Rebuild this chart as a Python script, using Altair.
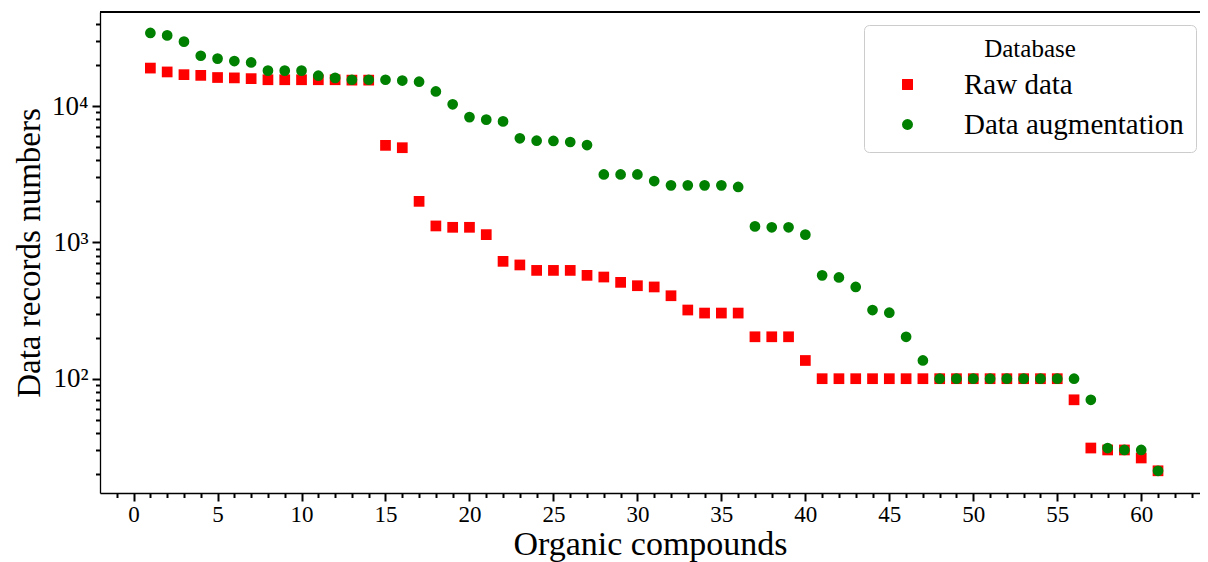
import altair as alt
import pandas as pd

compounds = list(range(1, 62))

raw_data = [19000, 17800, 17000, 16800, 16200, 16100, 15900, 15600, 15600, 15600,
            15600, 15600, 15500, 15500, 5150, 4950, 2000, 1320, 1290, 1290,
            1140, 726, 683, 623, 623, 623, 573, 557, 509, 481,
            471, 406, 319, 303, 303, 303, 203, 203, 203, 136,
            100, 100, 100, 100, 100, 100, 100, 100, 100, 100,
            100, 100, 100, 100, 100, 70, 31, 30, 30, 26.2,
            21.1]

augmented = [34400, 33000, 29700, 23400, 22300, 21400, 20900, 18200, 18200, 18200,
             16700, 16100, 15600, 15600, 15600, 15400, 15100, 12800, 10300, 8300,
             7950, 7720, 5800, 5570, 5550, 5450, 5180, 3150, 3150, 3150,
             2820, 2620, 2620, 2620, 2620, 2550, 1310, 1290, 1290, 1140,
             573, 553, 471, 319, 305, 203, 136, 100, 100, 100,
             100, 100, 100, 100, 100, 100, 70, 31, 30, 30,
             21.1]

series_names = ["Raw data", "Data augmentation"]
series_colors = ["#ff0000", "#008000"]
series_shapes = ["square", "circle"]

x_ticks = list(range(-1, 64))
y_ticks = [20, 30, 40, 50, 60, 70, 80, 90,
           100, 200, 300, 400, 500, 600, 700, 800, 900,
           1000, 2000, 3000, 4000, 5000, 6000, 7000, 8000, 9000,
           10000, 20000, 30000, 40000]

df = pd.DataFrame({
    "Organic compounds": compounds + compounds,
    "Data records numbers": raw_data + augmented,
    "Database": [series_names[0]] * len(compounds) + [series_names[1]] * len(compounds),
})

FONT = "Liberation Serif"
W, H = 1100, 481

points = alt.Chart(df).mark_point(filled=True, opacity=1, strokeWidth=0, size=115).encode(
    x=alt.X("Organic compounds:Q",
            scale=alt.Scale(domain=[-2, 63.5], nice=False, zero=False),
            axis=alt.Axis(values=x_ticks, grid=False, domainColor="black", domainWidth=1.3,
                          tickColor="black", tickWidth=2,
                          tickSize={"condition": {"test": "datum.value % 5 === 0", "value": 8}, "value": 4.5},
                          labelExpr="(datum.value % 5 === 0 && datum.value >= 0 && datum.value <= 60) ? datum.label : ''",
                          labelOverlap=False, labelFont=FONT, labelFontSize=23, labelColor="black",
                          labelPadding=2, title="Organic compounds", titleFont=FONT,
                          titleFontSize=34, titleFontWeight="normal", titleColor="black",
                          titlePadding=1)),
    y=alt.Y("Data records numbers:Q",
            scale=alt.Scale(type="log", domain=[14.5, 49000], nice=False),
            axis=alt.Axis(values=y_ticks, grid=False, domainColor="black", domainWidth=1.3,
                          tickColor="black", tickWidth=2,
                          tickSize={"condition": {"test": "datum.value == 100 || datum.value == 1000 || datum.value == 10000", "value": 8}, "value": 4.5},
                          labelExpr="datum.value == 100 ? '10²' : datum.value == 1000 ? '10³' : datum.value == 10000 ? '10⁴' : ''",
                          labelOverlap=False, labelFont=FONT, labelFontSize=27, labelColor="black",
                          labelPadding=4, title="Data records numbers", titleFont=FONT,
                          titleFontSize=33, titleFontWeight="normal", titleColor="black",
                          titlePadding=5)),
    color=alt.Color("Database:N",
                    scale=alt.Scale(domain=series_names, range=series_colors),
                    legend=alt.Legend(orient="none", legendX=764, legendY=13,
                                      title="Database", titleFont=FONT, titleFontSize=25,
                                      titleFontWeight="normal", titleColor="black",
                                      titleAnchor="middle", titlePadding=8,
                                      labelFont=FONT, labelFontSize=29, labelColor="black",
                                      labelLimit=0, labelOffset=42, symbolOffset=17,
                                      symbolSize=120, symbolStrokeWidth=0,
                                      rowPadding=10, padding=12,
                                      fillColor="white", strokeColor="#cccccc",
                                      cornerRadius=5)),
    shape=alt.Shape("Database:N",
                    scale=alt.Scale(domain=series_names, range=series_shapes)),
)

top_line = alt.Chart(df).mark_rule(color="black", strokeWidth=1.3).encode(
    x=alt.value(0), x2=alt.value(W), y=alt.value(0)
)

chart = alt.layer(points, top_line).properties(
    width=W, height=H,
    autosize=alt.AutoSizeParams(type="none"),
    padding={"left": 92, "top": 4, "right": 0, "bottom": 69},
).configure_view(stroke=None)

chart.save("out.html", embed_options={"renderer": "svg", "actions": False})
